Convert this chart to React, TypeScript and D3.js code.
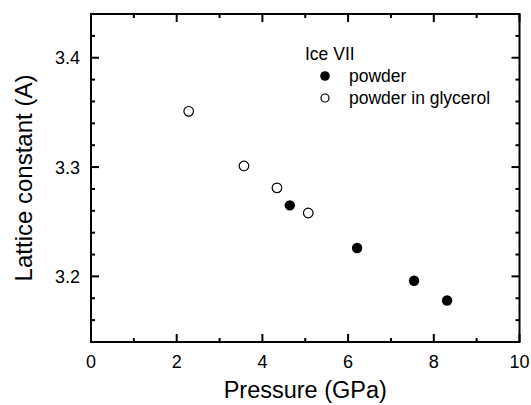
import * as d3 from "d3";

const WIDTH = 531;
const HEIGHT = 405;

// Ice VII, powder (filled)
const powderPressure = [4.64, 6.21, 7.54, 8.31];
const powderLattice = [3.265, 3.226, 3.196, 3.178];

// Ice VII, powder in glycerol (open)
const glycerolPressure = [2.28, 3.57, 4.34, 5.07];
const glycerolLattice = [3.351, 3.301, 3.281, 3.258];

const xMajorTicks = [0, 2, 4, 6, 8, 10];
const xMinorTicks = [1, 3, 5, 7, 9];
const yMajorTicks = [3.2, 3.3, 3.4];
const yMinorTicks = [3.16, 3.18, 3.22, 3.24, 3.26, 3.28, 3.32, 3.34, 3.36, 3.38, 3.42];

const legendTitle = "Ice VII";
const legendLabels = ["powder", "powder in glycerol"];

const FONT = "'Liberation Sans', Arial, sans-serif";

export default function App() {
  const x = d3.scaleLinear().domain([0, 10]).range([91, 519.5]);
  const y = d3.scaleLinear().domain([3.14, 3.44]).range([342, 14]);

  const [x0, x1] = x.range();
  const [y0, y1] = y.range();
  const fmtY = d3.format(".1f");

  const powder = powderPressure.map((p, i) => ({ p, a: powderLattice[i] }));
  const glycerol = glycerolPressure.map((p, i) => ({ p, a: glycerolLattice[i] }));

  return (
    <svg
      width={WIDTH}
      height={HEIGHT}
      style={{ position: "absolute", left: 0, top: 0, background: "#fff" }}
      fontFamily={FONT}
    >
      <g stroke="#000" strokeWidth={2}>
        {xMajorTicks.map((t) => (
          <g key={`xM${t}`}>
            <line x1={x(t)} x2={x(t)} y1={y0} y2={y0 - 8} />
            <line x1={x(t)} x2={x(t)} y1={y1} y2={y1 + 8} />
          </g>
        ))}
        {xMinorTicks.map((t) => (
          <g key={`xm${t}`}>
            <line x1={x(t)} x2={x(t)} y1={y0} y2={y0 - 4} />
            <line x1={x(t)} x2={x(t)} y1={y1} y2={y1 + 4} />
          </g>
        ))}
        {yMajorTicks.map((t) => (
          <g key={`yM${t}`}>
            <line x1={x0} x2={x0 + 8} y1={y(t)} y2={y(t)} />
            <line x1={x1} x2={x1 - 8} y1={y(t)} y2={y(t)} />
          </g>
        ))}
        {yMinorTicks.map((t) => (
          <g key={`ym${t}`}>
            <line x1={x0} x2={x0 + 4} y1={y(t)} y2={y(t)} />
            <line x1={x1} x2={x1 - 4} y1={y(t)} y2={y(t)} />
          </g>
        ))}
        <rect x={x0} y={y1} width={x1 - x0} height={y0 - y1} fill="none" />
      </g>

      <g fontSize={18} fill="#000">
        {xMajorTicks.map((t) => (
          <text key={`xl${t}`} x={x(t)} y={368} textAnchor="middle">
            {t}
          </text>
        ))}
        {yMajorTicks.map((t) => (
          <text key={`yl${t}`} x={80} y={y(t) + 6.5} textAnchor="end">
            {fmtY(t)}
          </text>
        ))}
      </g>

      <text x={(x0 + x1) / 2} y={398} textAnchor="middle" fontSize={23.5}>
        Pressure (GPa)
      </text>
      <text
        transform={`translate(32, ${(y0 + y1) / 2}) rotate(-90)`}
        textAnchor="middle"
        fontSize={24}
      >
        Lattice constant (A)
      </text>

      {glycerol.map((d, i) => (
        <circle key={`g${i}`} cx={x(d.p)} cy={y(d.a)} r={4.8} fill="#fff" stroke="#000" strokeWidth={1.2} />
      ))}
      {powder.map((d, i) => (
        <circle key={`p${i}`} cx={x(d.p)} cy={y(d.a)} r={5.2} fill="#000" />
      ))}

      <g fontSize={17.5}>
        <text x={305} y={60}>{legendTitle}</text>
        <circle cx={325} cy={76} r={4.8} fill="#000" />
        <text x={349} y={82}>{legendLabels[0]}</text>
        <circle cx={325} cy={98} r={4} fill="#fff" stroke="#000" strokeWidth={1.2} />
        <text x={349} y={104}>{legendLabels[1]}</text>
      </g>
    </svg>
  );
}
